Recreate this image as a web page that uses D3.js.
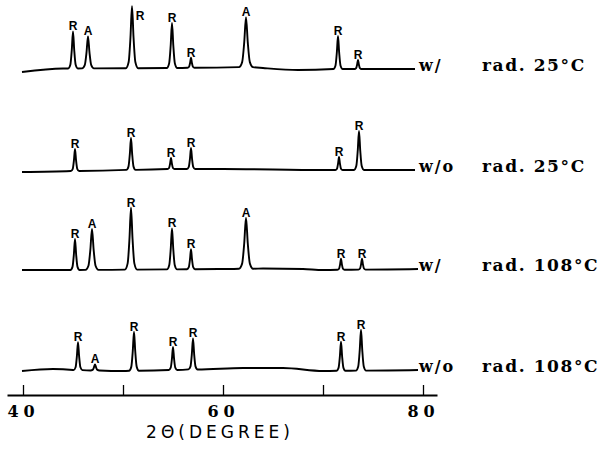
<!DOCTYPE html>
<html>
<head>
<meta charset="utf-8">
<script src="https://cdn.jsdelivr.net/npm/d3@7"></script>
<style>
  body { margin: 0; background: #fff; }
  svg { display: block; }
</style>
</head>
<body>
<div id="chart"></div>
<script>
// peaks: [2theta, intensity (a.u.), phase]  R = rutile, A = anatase
const peaksW25 = [[45.0, 37, "R"], [46.5, 32, "A"], [50.9, 62, "R"], [54.9, 45, "R"],
                  [56.8, 10, "R"], [62.3, 50, "A"], [71.5, 33, "R"], [73.5, 9, "R"]];
const peaksWo25 = [[45.2, 22, "R"], [50.8, 32, "R"], [54.8, 11, "R"], [56.8, 21, "R"],
                   [71.6, 13, "R"], [73.6, 39, "R"]];
const peaksW108 = [[45.2, 31, "R"], [46.9, 41, "A"], [50.8, 62, "R"], [54.9, 41, "R"],
                   [56.8, 20, "R"], [62.3, 51, "A"], [71.8, 11, "R"], [73.9, 11, "R"]];
const peaksWo108 = [[45.5, 28, "R"], [47.2, 6, "A"], [51.1, 39, "R"], [55.0, 23, "R"],
                    [57.0, 31, "R"], [71.8, 29, "R"], [73.8, 41, "R"]];

// background: [2theta, intensity]
const bgW25 = [[39.9, -1], [44, 2.5], [55, 3], [62, 4], [64, 3], [67.5, 1], [71, 2], [79.2, 2]];
const bgWo25 = [[39.9, -1], [45, 0], [55, 2], [60, 2], [70, 1], [79.2, 1]];
const bgW108 = [[39.9, 0], [45, 0], [60, 1], [64, 1.5], [68, 1], [70, 0], [79.5, 1]];
const bgWo108 = [[39.9, 0], [43, 2], [45, 1], [50, 0], [55, 1], [62, 3], [66, 3], [70, 0], [79.5, 1]];

const sampleNames = ["w/", "w/o", "w/", "w/o"];
const conditions = ["rad. 25°C", "rad. 25°C", "rad. 108°C", "rad. 108°C"];
const tickValues = [40, 50, 60, 70, 80];
const tickLabels = [40, 60, 80];

const traces = [
  { peaks: peaksW25, bg: bgW25 },
  { peaks: peaksWo25, bg: bgWo25 },
  { peaks: peaksW108, bg: bgW108 },
  { peaks: peaksWo108, bg: bgWo108 }
];

const width = 613, height = 454;
const baseY = [71, 171, 270, 371];   // vertical offset of each pattern
const axisY = 395;

const svg = d3.select("#chart").append("svg")
  .attr("width", width).attr("height", height);

const x = d3.scaleLinear().domain([38.4, 81.4]).range([7, 437]);
const y = d3.scaleLinear().domain([0, 100]).range([0, 100]);

const line = d3.line()
  .x(d => x(d[0]))
  .y(d => d[1])
  .curve(d3.curveMonotoneX);

traces.forEach((t, i) => {
  const bgScale = d3.scaleLinear().domain(t.bg.map(d => d[0])).range(t.bg.map(d => d[1]));
  const off = baseY[i];
  const halfW = p => p[2] === "A" ? 0.4 + 0.006 * p[1] : 0.3 + 0.005 * p[1];
  let pts = [];
  t.bg.forEach(b => {
    const inside = t.peaks.some(p => Math.abs(b[0] - p[0]) < halfW(p) + 0.05);
    if (!inside) pts.push([b[0], off - y(b[1])]);
  });
  t.peaks.forEach(p => {
    const hw = halfW(p);
    const b = bgScale(p[0]);
    [[-1, 0], [-0.55, 0.1], [-0.25, 0.5], [0, 1], [0.25, 0.5], [0.55, 0.1], [1, 0]].forEach(s => {
      pts.push([p[0] + s[0] * hw, off - y(b + s[1] * p[1])]);
    });
  });
  pts.sort((a, b) => a[0] - b[0]);

  svg.append("path")
    .attr("d", line(pts))
    .attr("fill", "none")
    .attr("stroke", "#000")
    .attr("stroke-width", 1.9)
    .attr("stroke-linejoin", "round");

  // phase labels above peaks
  svg.selectAll(null)
    .data(t.peaks)
    .enter().append("text")
    .attr("x", p => {
      const top = off - y(bgScale(p[0]) + p[1]);
      return top - 11 < 4 ? x(p[0]) + 8 : x(p[0]);
    })
    .attr("y", p => {
      const top = off - y(bgScale(p[0]) + p[1]);
      return top - 11 < 4 ? top + 14 : top - 1;
    })
    .attr("text-anchor", "middle")
    .attr("font-family", "Liberation Sans, Arial, sans-serif")
    .attr("font-weight", "bold")
    .attr("font-size", 12)
    .text(p => p[2]);

  // right-hand labels
  const lastBg = t.bg[t.bg.length - 1];
  const ty = off - y(lastBg[1]) + 2;
  svg.append("text")
    .attr("x", 419).attr("y", ty)
    .attr("font-family", "DejaVu Serif, serif")
    .attr("font-weight", "bold")
    .attr("font-size", 16)
    .attr("letter-spacing", 2)
    .text(sampleNames[i]);
  svg.append("text")
    .attr("x", 482).attr("y", ty)
    .attr("font-family", "DejaVu Serif, serif")
    .attr("font-weight", "bold")
    .attr("font-size", 17)
    .attr("letter-spacing", 1.6)
    .text(conditions[i]);
});

// axis
const axis = d3.axisBottom(x)
  .tickValues(tickValues)
  .tickSize(-10)
  .tickSizeOuter(0)
  .tickPadding(11)
  .tickFormat(d => tickLabels.includes(d) ? d : "");

const gx = svg.append("g")
  .attr("transform", `translate(0,${axisY})`)
  .call(axis);
gx.select(".domain").attr("stroke-width", 1.8);
gx.selectAll(".tick line").attr("stroke-width", 1.3);
gx.selectAll(".tick text")
  .attr("font-family", "DejaVu Serif, serif")
  .attr("font-weight", "bold")
  .attr("font-size", 16)
  .attr("letter-spacing", 5)
  .attr("fill", "#000");

svg.append("text")
  .attr("x", 220).attr("y", 438)
  .attr("text-anchor", "middle")
  .attr("font-family", "DejaVu Sans, sans-serif")
  .attr("font-size", 17)
  .attr("letter-spacing", 4)
  .text("2Θ(DEGREE)");
</script>
</body>
</html>
